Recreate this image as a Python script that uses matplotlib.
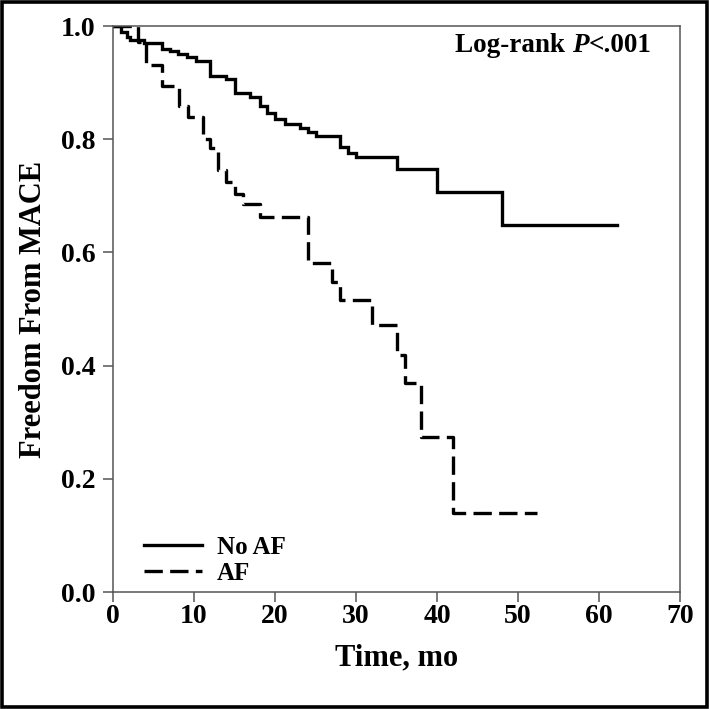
import matplotlib
matplotlib.use("Agg")
import matplotlib.pyplot as plt
from matplotlib.patches import Rectangle

# ---- data ----
noaf_t = [0, 1.0, 1.7, 2.1, 3.8, 6.0, 7.0, 8.0, 9.1, 10.3, 12.0, 14.0, 15.1, 16.9,
          18.1, 19.0, 20.0, 21.2, 23.1, 24.1, 25.1, 28.0, 29.0, 30.0, 35.0, 40.0,
          48.0, 62.2]
noaf_s = [1.0, 0.990, 0.981, 0.975, 0.970, 0.960, 0.956, 0.951, 0.945, 0.939, 0.912,
          0.906, 0.881, 0.874, 0.859, 0.846, 0.835, 0.827, 0.820, 0.813, 0.806,
          0.787, 0.775, 0.768, 0.747, 0.707, 0.648, 0.648]

af_t = [0, 3.1, 4.1, 6.0, 8.1, 9.2, 11.1, 12.0, 13.0, 14.0, 15.1, 16.1, 18.1,
        24.1, 27.0, 28.0, 32.0, 35.0, 36.0, 38.0, 42.0, 52.3]
af_s = [1.0, 0.972, 0.931, 0.894, 0.859, 0.840, 0.801, 0.784, 0.746, 0.725, 0.704,
        0.686, 0.663, 0.581, 0.548, 0.516, 0.472, 0.419, 0.369, 0.274, 0.139, 0.139]

series_labels = ["No AF", "AF"]
x_ticks = [0, 10, 20, 30, 40, 50, 60, 70]
y_ticks = [0.0, 0.2, 0.4, 0.6, 0.8, 1.0]
y_ticklabels = ["0.0", "0.2", "0.4", "0.6", "0.8", "1.0"]

plt.rcParams['font.family'] = ['Liberation Serif', 'DejaVu Serif']
plt.rcParams['font.weight'] = 'bold'

fig = plt.figure(figsize=(7.09, 7.09), dpi=100)
ax = fig.add_axes([113/709, 1-592/709, (680-113)/709, (592-26)/709])

spine_col = '#555555'
l1, = ax.step(noaf_t, noaf_s, where='post', color='black', lw=2.4, label=series_labels[0],
              solid_joinstyle='miter')
l2, = ax.step(af_t, af_s, where='post', color='black', lw=2.4, label=series_labels[1],
              linestyle=(0, (5.5, 2.2)), dash_capstyle='butt')

ax.set_xlim(0, 70)
ax.set_ylim(0, 1.0)
ax.set_xticks(x_ticks)
ax.set_xticklabels([str(v) for v in x_ticks])
ax.set_yticks(y_ticks)
ax.set_yticklabels(y_ticklabels)
for s in ax.spines.values():
    s.set_color(spine_col)
    s.set_linewidth(1.1)
ax.tick_params(direction='out', length=7.5, width=1.1, color=spine_col, labelsize=20)
ax.tick_params(axis='x', pad=1)
ax.tick_params(axis='y', pad=5)
for lab in ax.get_xticklabels() + ax.get_yticklabels():
    lab.set_fontweight('bold')

ax.set_xlabel("Time, mo", fontsize=22, fontweight='bold')
ax.set_ylabel("Freedom From MACE", fontsize=22, fontweight='bold')
ax.xaxis.set_label_coords(0.5, -0.09)
ax.yaxis.set_label_coords(-0.115, 0.5)

leg = ax.legend(handles=[l1, l2], loc='lower left', bbox_to_anchor=(0.015, -0.027),
                frameon=False, handlelength=2.3, handletextpad=0.6,
                labelspacing=0.12, prop={'weight': 'bold', 'size': 18})

t1 = ax.text(42.2, 0.966, "Log-rank ", fontsize=19.5, fontweight='bold', va='center', ha='left')
t2 = ax.annotate("P", xy=(1, 0), xycoords=t1, va='bottom', ha='left',
                 fontsize=19.5, fontweight='bold', fontstyle='italic')
t3 = ax.annotate("<.001", xy=(1, 0), xycoords=t2, va='bottom', ha='left',
                 fontsize=19.5, fontweight='bold')

fig.patches.append(Rectangle((0.003, 0.003), 0.994, 0.994, transform=fig.transFigure,
                             fill=False, edgecolor='black', linewidth=2.6))

fig.savefig("out.png", dpi=100)
